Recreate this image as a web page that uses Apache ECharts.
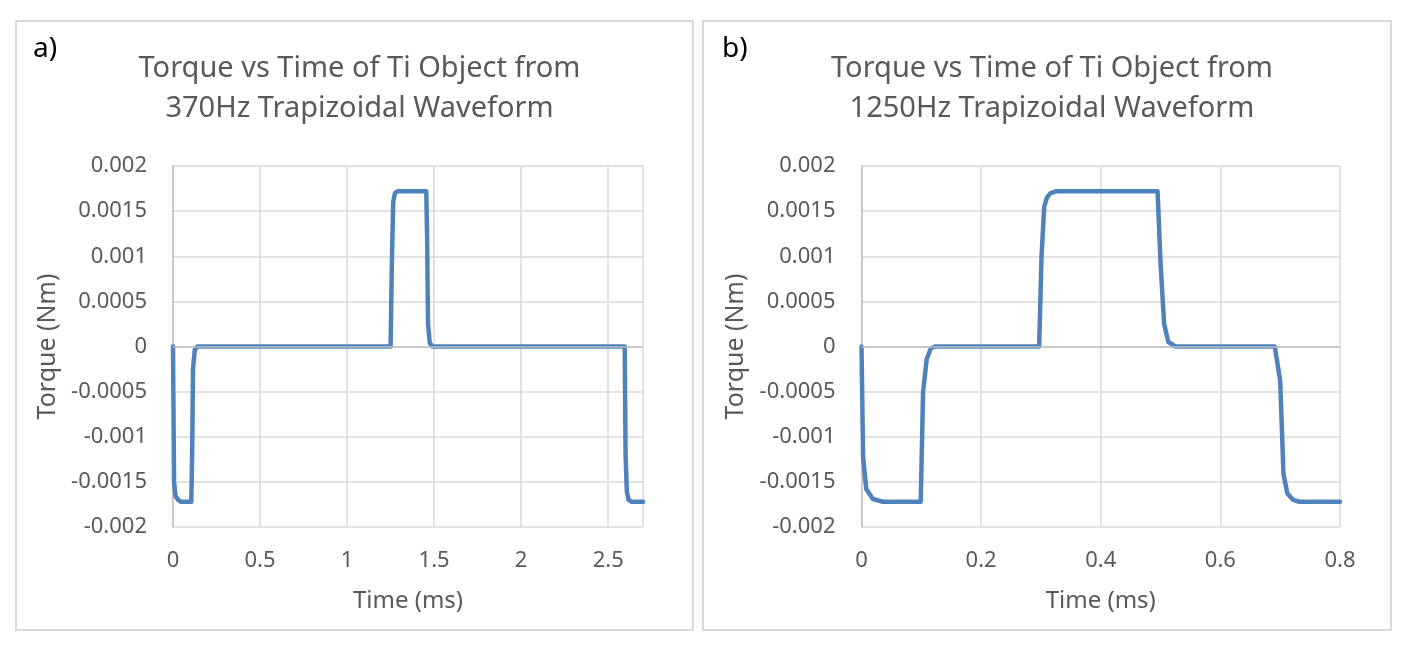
<!DOCTYPE html>
<html>
<head>
<meta charset="utf-8">
<script src="https://cdn.jsdelivr.net/npm/echarts@6/dist/echarts.min.js"></script>
<style>
    body { margin: 0; background: #fff; }
    .panel { position: absolute; top: 20px; height: 611px; box-sizing: border-box; border: 2px solid #d9d9d9; }
    .echarts_left { left: 15px; width: 679px; }
    .echarts_right { left: 702px; width: 690px; }
</style>
</head>
<body>
<div class="panel echarts_left"></div>
<div class="panel echarts_right"></div>
<script>
// 370Hz waveform (a)
var timeA = [0, 0.006, 0.015, 0.03, 0.045, 0.105, 0.11, 0.115, 0.125, 0.14,
    1.25, 1.258, 1.265, 1.275, 1.29, 1.455, 1.46, 1.465, 1.475, 1.49,
    2.595, 2.6, 2.607, 2.617, 2.635, 2.7];
var torqueA = [0, -0.0015, -0.00166, -0.0017, -0.00172, -0.00172, -0.0012, -0.00025, -0.00004, 0,
    0, 0.001, 0.0016, 0.0017, 0.00172, 0.00172, 0.0012, 0.00025, 0.00004, 0,
    0, -0.0012, -0.0016, -0.0017, -0.00172, -0.00172];

// 1250Hz waveform (b)
var timeB = [0, 0.0027, 0.008, 0.019, 0.036, 0.099, 0.103, 0.109, 0.116, 0.123,
    0.297, 0.301, 0.3055, 0.31, 0.316, 0.326, 0.495, 0.5, 0.506, 0.513, 0.525,
    0.691, 0.7, 0.7055, 0.712, 0.722, 0.732, 0.8];
var torqueB = [0, -0.00123, -0.00158, -0.00169, -0.00172, -0.00172, -0.0005, -0.00014, -0.00002, 0,
    0, 0.001, 0.00155, 0.00165, 0.0017, 0.00172, 0.00172, 0.00092, 0.00025, 0.00005, 0,
    0, -0.00038, -0.00141, -0.00163, -0.0017, -0.00172, -0.00172];

var yTicks = [-0.002, -0.0015, -0.001, -0.0005, 0, 0.0005, 0.001, 0.0015, 0.002];

var font = 'Noto Sans';
var grey = '#595959';

function zip(xs, ys) {
    return xs.map(function (x, i) { return [x, ys[i]]; });
}

function makeOption(tag, title, xs, ys, xMax, xStep, gridLeft, gridWidth, tagLeft) {
    return {
        animation: false,
        title: [{
            text: tag,
            left: tagLeft,
            top: 8,
            textStyle: { fontFamily: font, fontSize: 28, fontWeight: 'normal', color: '#000' }
        }, {
            text: title,
            left: '50%',
            top: 22,
            textAlign: 'center',
            textStyle: { fontFamily: font, fontSize: 29, fontWeight: 'normal', color: grey, lineHeight: 40, align: 'center' }
        }],
        grid: { left: gridLeft, top: 144, width: gridWidth, height: 361 },
        xAxis: {
            type: 'value',
            min: 0,
            max: xMax,
            interval: xStep,
            name: 'Time (ms)',
            nameLocation: 'middle',
            nameGap: 62,
            nameTextStyle: { fontFamily: font, fontSize: 24, color: grey },
            axisLine: { onZero: false, show: false },
            axisTick: { show: false },
            axisLabel: {
                fontFamily: font, fontSize: 22, color: grey, margin: 23,
                showMaxLabel: xMax % xStep === 0,
                formatter: function (v) { return String(+v.toFixed(4)); }
            },
            splitLine: { show: true, lineStyle: { color: '#d9d9d9', width: 1.5 } }
        },
        yAxis: {
            type: 'value',
            min: yTicks[0],
            max: yTicks[yTicks.length - 1],
            interval: 0.0005,
            name: 'Torque (Nm)',
            nameLocation: 'middle',
            nameGap: 113,
            nameTextStyle: { fontFamily: font, fontSize: 25, color: grey },
            axisLine: { show: true, lineStyle: { color: '#bfbfbf', width: 1.5 } },
            axisTick: { show: false },
            axisLabel: {
                fontFamily: font, fontSize: 22, color: grey, margin: 26,
                formatter: function (v) { return String(+v.toFixed(4)); }
            },
            splitLine: { show: true, lineStyle: { color: '#d9d9d9', width: 1.5 } }
        },
        series: [{
            type: 'line',
            data: zip(xs, ys),
            showSymbol: false,
            lineStyle: { color: '#4f81bd', width: 4.5, join: 'round', cap: 'round' },
            markLine: {
                silent: true,
                symbol: 'none',
                label: { show: false },
                lineStyle: { color: '#bfbfbf', width: 1.5, type: 'solid' },
                data: [{ yAxis: 0 }]
            },
            z: 3
        }]
    };
}

var echarts_left = echarts.init(document.querySelector('.echarts_left'));
echarts_left.setOption(makeOption('a)', 'Torque vs Time of Ti Object from\n370Hz Trapizoidal Waveform',
    timeA, torqueA, 2.7, 0.5, 156, 470, 11));

var echarts_right = echarts.init(document.querySelector('.echarts_right'));
echarts_right.setOption(makeOption('b)', 'Torque vs Time of Ti Object from\n1250Hz Trapizoidal Waveform',
    timeB, torqueB, 0.8, 0.2, 157.5, 478.5, 13));
</script>
</body>
</html>
